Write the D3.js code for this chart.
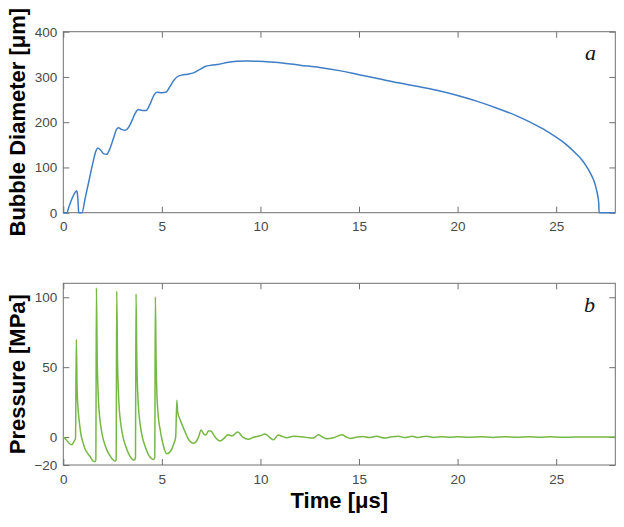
<!DOCTYPE html>
<html>
<head>
<meta charset="utf-8">
<script src="https://cdn.jsdelivr.net/npm/d3@7"></script>
<style>
  body { margin: 0; background: #fff; }
  svg { display: block; }
  .tick text { font-family: "Liberation Sans", Arial, sans-serif; font-size: 13.5px; fill: #4a4a4a; }
</style>
</head>
<body>
<svg id="chart" width="624" height="527"></svg>
<script>
// ---- Data ----
const xTicks = [0, 5, 10, 15, 20, 25];
const diamTicks = [0, 100, 200, 300, 400];
const presTicks = [-20, 0, 50, 100];

// Bubble diameter [µm] vs time [µs]
const diamTime = [0, 0.17, 0.3, 0.45, 0.6, 0.68, 0.72, 0.76, 0.78, 0.95, 1.1, 1.3, 1.5, 1.65, 1.75, 1.9, 2.05, 2.2, 2.35, 2.55, 2.7, 2.8, 2.95, 3.15, 3.3, 3.5, 3.65, 3.8, 4.0, 4.2, 4.4, 4.6, 4.75, 5.0, 5.2, 5.4, 5.6, 5.8, 6.0, 6.3, 6.6, 6.9, 7.2, 7.5, 7.9, 8.3, 8.8, 9.3, 9.9, 10.5, 11.2, 12, 13, 14, 15, 16, 17, 18, 19, 20, 21, 22, 23, 24, 24.5, 25, 25.5, 26, 26.3, 26.6, 26.8, 26.95, 27.05, 27.12, 27.16, 27.18, 28];
const diamValue = [0, 0, 15, 32, 45, 48.6, 40, 15, 0, 0, 30, 70, 110, 136, 143, 138, 130, 129, 140, 165, 184, 188, 184, 182, 188, 205, 220, 228, 226, 226, 240, 260, 266, 265, 266, 278, 292, 301, 304, 306, 309, 316, 323, 326, 328, 332, 334.5, 335, 334.5, 333, 330.5, 326, 321, 314, 305, 296, 287, 279, 270, 259, 246, 231, 214, 193, 181, 167, 151, 131, 117, 98, 82, 66, 50, 35, 20, 0, 0];

// Pressure [MPa] vs time [µs]
const presTime = [0, 0.15, 0.3, 0.42, 0.55, 0.62, 0.66, 0.7, 0.75, 0.82, 0.91, 1.0, 1.08, 1.2, 1.34, 1.5, 1.6, 1.65, 1.68,
  1.72, 1.76, 1.82, 1.9, 2.0, 2.1, 2.2, 2.35, 2.5, 2.62, 2.68, 2.71,
  2.75, 2.79, 2.85, 2.93, 3.03, 3.13, 3.23, 3.35, 3.5, 3.6, 3.66, 3.69,
  3.73, 3.77, 3.83, 3.91, 4.01, 4.11, 4.21, 4.33, 4.48, 4.58, 4.64, 4.67,
  4.71, 4.75, 4.81, 4.91, 5.08, 5.25, 5.45, 5.6, 5.7, 5.76,
  5.8, 5.92, 6.09, 6.35, 6.6, 6.85, 6.99, 7.14, 7.24, 7.36, 7.48, 7.7, 7.95, 8.15, 8.35, 8.55, 8.85, 9.1, 9.39, 9.65, 10.0, 10.24, 10.45, 10.66, 10.9, 11.1, 11.34, 11.68, 12.18, 12.44, 12.69, 12.94, 13.15, 13.37, 13.7, 14.13, 14.35, 14.55, 14.9, 15.2, 15.5, 15.9, 16.3, 16.6, 17.0, 17.3, 17.7, 18.0, 18.4, 18.8, 19.2, 19.6, 20.0, 20.6, 21.2, 21.8, 22.4, 23.0, 23.6, 24.2, 24.7, 25.3, 26, 28];
const presValue = [0, -2, -4.5, -5.5, -3, -1, 69.8, 34, 20, 10, 0.7, -4, -7.6, -11, -13.6, -17, -17.5, -16.5, 106.7,
  55, 34, 18, 8, 0, -5, -9, -13, -16, -17.2, -16, 104.3,
  55, 34, 18, 8, 0, -5, -9, -13, -16, -16.5, -15, 102.4,
  54, 33, 18, 8, 0, -5, -9, -13, -15.5, -16, -14.5, 100.3,
  52, 30, 16, 5.5, -6.4, -12, -10, -5, 0, 26.4,
  18, 12.6, 6.7, -1.6, -4.5, -0.4, 5, 1.9, 1.5, 4.3, 4.3, 0, -2.8, -1, 1.7, 0.8, 3.6, 0, -1.6, -0.2, 1, 2.2, 0, -2, 1.5, 0.5, -0.5, 0.5, 0, -0.5, -0.7, 1.7, 0, -1.2, -0.5, 1.7, 0, -1, 0, 0.4, -0.3, 0.5, -0.7, 0, 0.6, -0.4, 0.5, -0.3, 0.6, -0.3, 0.3, -0.2, 0.2, -0.2, 0.3, -0.3, 0.2, -0.2, 0.3, -0.2, 0.3, -0.2, 0, 0];

// ---- Layout ----
const svg = d3.select("#chart");
const L = 63.3, R = 615.3;
const top1 = 31.7, bot1 = 212.7;
const top2 = 283.3, bot2 = 465;
const axisColor = "#707070";
const tick = 6;

const x1 = d3.scaleLinear().domain([0, 28]).range([L, R]);
const y1 = d3.scaleLinear().domain([0, 400]).range([bot1, top1]);
const y2 = d3.scaleLinear().domain([-20, 110]).range([bot2, top2]);

function panel(y, yTicks, yTop, yBot, fmt) {
  const g = svg.append("g");
  g.append("rect").attr("x", L).attr("y", yTop).attr("width", R - L).attr("height", yBot - yTop)
    .attr("fill", "none").attr("stroke", axisColor).attr("stroke-width", 1);
  const gb = g.append("g").attr("transform", `translate(0,${yBot})`)
    .call(d3.axisBottom(x1).tickValues(xTicks).tickSizeInner(-tick).tickSizeOuter(0).tickPadding(9));
  const gt = g.append("g").attr("transform", `translate(0,${yTop})`)
    .call(d3.axisTop(x1).tickValues(xTicks).tickSizeInner(-tick).tickSizeOuter(0).tickFormat(""));
  const gl = g.append("g").attr("transform", `translate(${L},0)`)
    .call(d3.axisLeft(y).tickValues(yTicks).tickSizeInner(-tick).tickSizeOuter(0).tickPadding(6).tickFormat(fmt));
  const gr = g.append("g").attr("transform", `translate(${R},0)`)
    .call(d3.axisRight(y).tickValues(yTicks).tickSizeInner(-tick).tickSizeOuter(0).tickFormat(""));
  [gb, gt, gl, gr].forEach(a => {
    a.select(".domain").remove();
    a.selectAll(".tick line").attr("stroke", axisColor);
  });
  return g;
}

panel(y1, diamTicks, top1, bot1, d3.format("d"));
panel(y2, presTicks, top2, bot2, d3.format("d"));

// Lines
const diamData = diamTime.map((t, i) => [t, diamValue[i]]);
const presData = presTime.map((t, i) => [t, presValue[i]]);

svg.append("path").datum(diamData)
  .attr("fill", "none").attr("stroke", "#3f7ec6").attr("stroke-width", 1.5)
  .attr("d", d3.line().x(d => x1(d[0])).y(d => y1(d[1])).curve(d3.curveMonotoneX));

svg.append("path").datum(presData)
  .attr("fill", "none").attr("stroke", "#76b843").attr("stroke-width", 1.5)
  .attr("d", d3.line().x(d => x1(d[0])).y(d => y2(d[1])).curve(d3.curveMonotoneX));

// Panel letters
svg.append("text").attr("x", 585).attr("y", 60).text("a")
  .attr("font-family", "'Liberation Serif', 'Times New Roman', serif").attr("font-style", "italic")
  .attr("font-size", 22).attr("fill", "#111");
svg.append("text").attr("x", 584).attr("y", 312).text("b")
  .attr("font-family", "'Liberation Serif', 'Times New Roman', serif").attr("font-style", "italic")
  .attr("font-size", 22).attr("fill", "#111");

// Axis titles
const titleFont = "'Liberation Sans', Arial, sans-serif";
svg.append("text").attr("transform", `translate(25,${(top1 + bot1) / 2}) rotate(-90)`)
  .attr("text-anchor", "middle").attr("font-family", titleFont).attr("font-weight", "bold")
  .attr("font-size", 22).attr("fill", "#000").text("Bubble Diameter [μm]");
svg.append("text").attr("transform", `translate(25,${(top2 + bot2) / 2}) rotate(-90)`)
  .attr("text-anchor", "middle").attr("font-family", titleFont).attr("font-weight", "bold")
  .attr("font-size", 22).attr("fill", "#000").text("Pressure [MPa]");
svg.append("text").attr("x", (L + R) / 2).attr("y", 508)
  .attr("text-anchor", "middle").attr("font-family", titleFont).attr("font-weight", "bold")
  .attr("font-size", 22).attr("fill", "#000").text("Time [μs]");
</script>
</body>
</html>
